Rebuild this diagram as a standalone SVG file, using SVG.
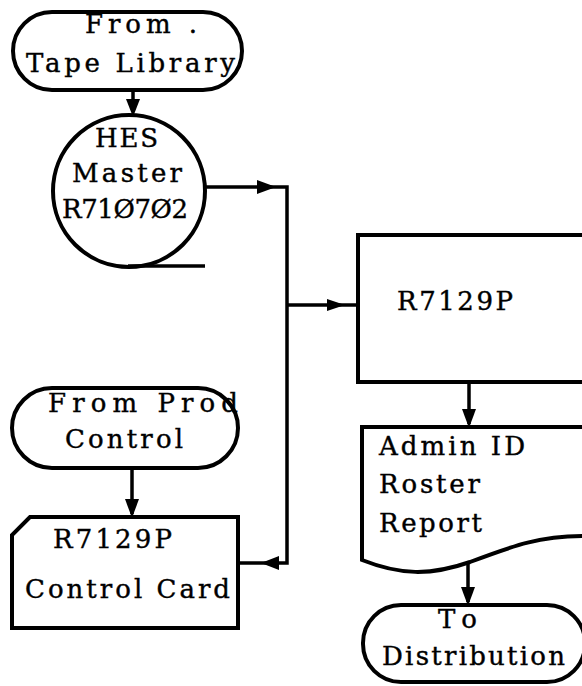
<svg xmlns="http://www.w3.org/2000/svg" width="582" height="686" viewBox="0 0 582 686">
<style>
.s{fill:#fff;stroke:#000;stroke-width:4}
.l{fill:none;stroke:#000;stroke-width:3.5}
.t{font-family:"DejaVu Serif","Liberation Serif",serif;font-size:26px;fill:#000;stroke:#000;stroke-width:0.4}
.a{fill:#000}
</style>
<rect width="582" height="686" fill="#fff"/>
<g id="connectors">
<line class="l" x1="133" y1="90" x2="133" y2="112"/>
<polygon class="a" points="126,99 140,99 133,117"/>
<polyline class="l" points="204,187 287,187 287,563 238,563"/>
<polygon class="a" points="257,180 276,187 257,194"/>
<polygon class="a" points="279,556 261,563 279,570"/>
<line class="l" x1="287" y1="305" x2="358" y2="305"/>
<polygon class="a" points="327,299 345,305 327,311"/>
<line class="l" x1="132" y1="468" x2="132" y2="514"/>
<polygon class="a" points="125,499 139,499 132,518"/>
<line class="l" x1="469" y1="382" x2="469" y2="424"/>
<polygon class="a" points="462,409 476,409 469,428"/>
<line class="l" x1="468" y1="563" x2="468" y2="602"/>
<polygon class="a" points="461,587 475,587 468,606"/>
</g>
<g id="tape-library">
<rect class="s" x="13" y="12" width="229" height="78" rx="39"/>
<text class="t" x="85" y="33" textLength="112" lengthAdjust="spacing">From .</text>
<text class="t" x="26" y="72" textLength="209" lengthAdjust="spacing">Tape Library</text>
</g>
<g id="hes-master">
<circle class="s" cx="129" cy="191" r="76"/>
<line class="l" x1="128" y1="266" x2="205" y2="266"/>
<text class="t" x="95" y="147" textLength="63" lengthAdjust="spacing">HES</text>
<text class="t" x="72" y="182" textLength="110" lengthAdjust="spacing">Master</text>
<text class="t" x="62" y="218" textLength="126" lengthAdjust="spacing">R71Ø7Ø2</text>
</g>
<g id="prod-control">
<rect class="s" x="12" y="388" width="226" height="80" rx="40"/>
<text class="t" x="48" y="412" textLength="190" lengthAdjust="spacing">From Prod</text>
<text class="t" x="65" y="448" textLength="118" lengthAdjust="spacing">Control</text>
</g>
<g id="control-card">
<polygon class="s" points="30,517 238,517 238,628 12,628 12,535"/>
<text class="t" x="53" y="548" textLength="119" lengthAdjust="spacing">R7129P</text>
<text class="t" x="25" y="598" textLength="205" lengthAdjust="spacing">Control Card</text>
</g>
<g id="r7129p">
<rect class="s" x="358" y="235" width="226" height="147"/>
<text class="t" x="397" y="310" textLength="116" lengthAdjust="spacing">R7129P</text>
</g>
<g id="report">
<path class="s" d="M362,427 H586 V536 C540,536 515,545 470,562 C430,576 400,575 362,560 Z"/>
<text class="t" x="379" y="455" textLength="146" lengthAdjust="spacing">Admin ID</text>
<text class="t" x="379" y="493" textLength="101" lengthAdjust="spacing">Roster</text>
<text class="t" x="379" y="532" textLength="103" lengthAdjust="spacing">Report</text>
</g>
<g id="distribution">
<rect class="s" x="363" y="605" width="222" height="77" rx="38"/>
<text class="t" x="438" y="628" textLength="39" lengthAdjust="spacing">To</text>
<text class="t" x="382" y="665" textLength="183" lengthAdjust="spacing">Distribution</text>
</g>
</svg>
